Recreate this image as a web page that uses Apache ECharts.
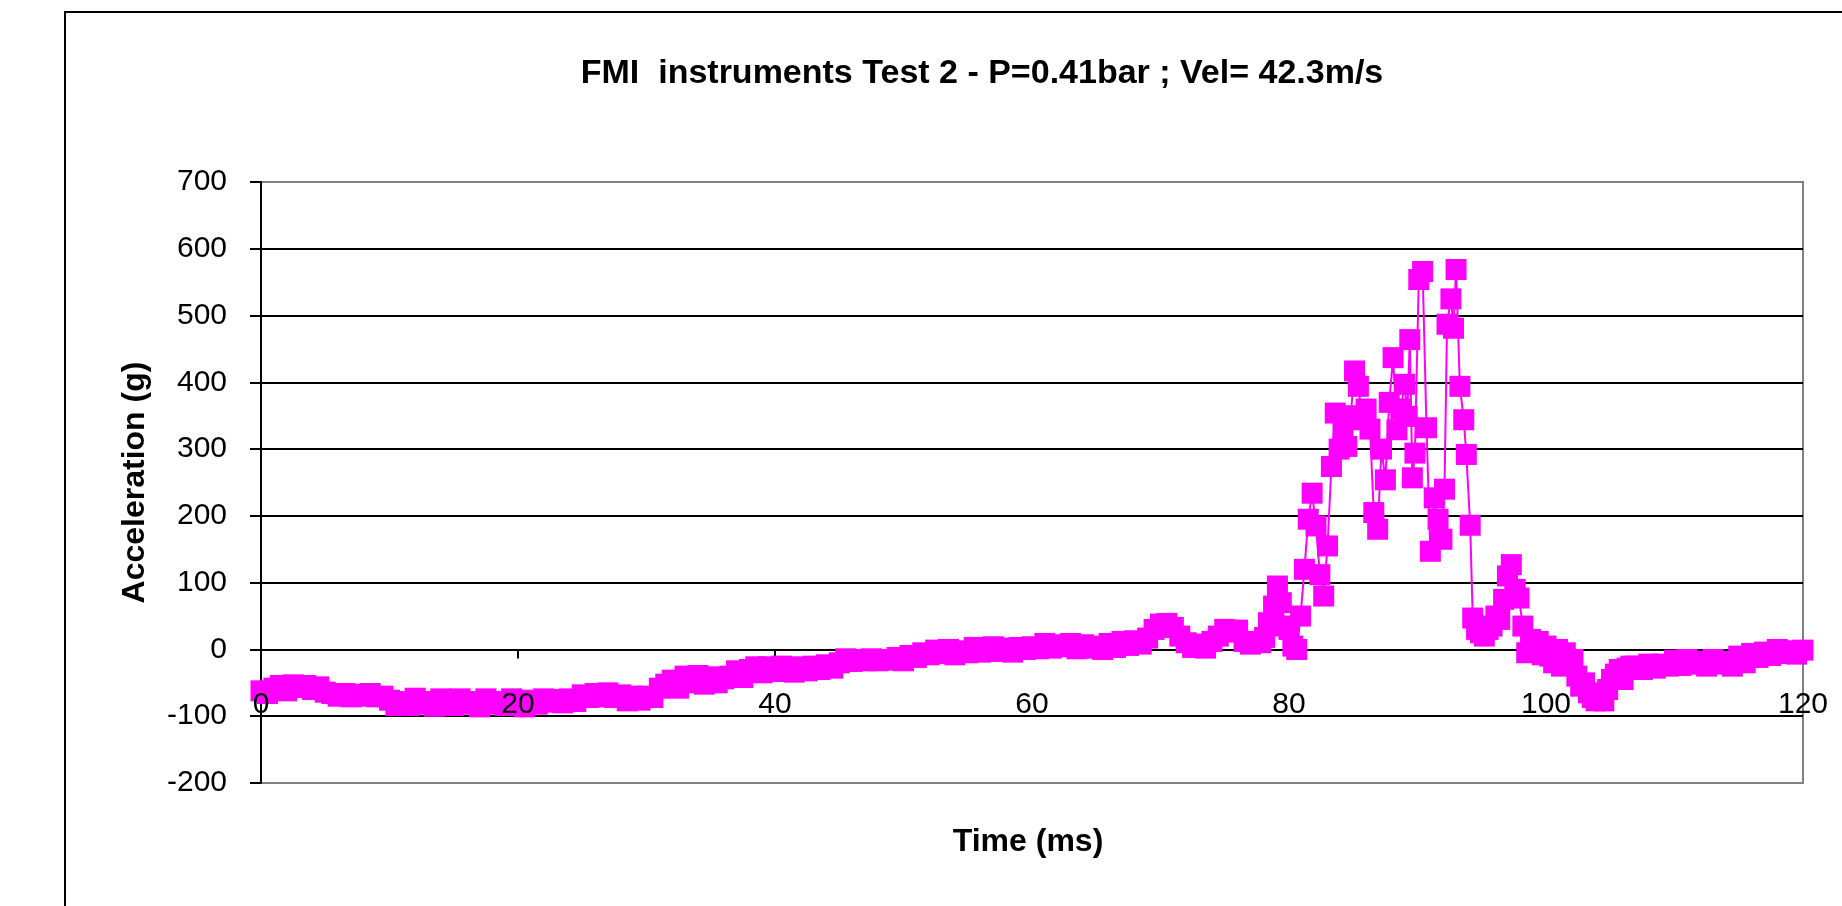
<!DOCTYPE html>
<html>
<head>
<meta charset="utf-8">
<script src="https://cdn.jsdelivr.net/npm/echarts@6/dist/echarts.min.js"></script>
<style>
html,body{margin:0;padding:0;background:#fff;}
#chart{width:1842px;height:906px;}
</style>
</head>
<body>
<div id="chart"></div>
<script>
// ---- Data (time in ms, acceleration in g) ----
const chartTitle = 'FMI  instruments Test 2 - P=0.41bar ; Vel= 42.3m/s';
const xAxisTitle = 'Time (ms)';
const yAxisTitle = 'Acceleration (g)';
const xTicks = [0, 20, 40, 60, 80, 100, 120];
const yTicks = [-200, -100, 0, 100, 200, 300, 400, 500, 600, 700];

const segStart = [
  [0,-62],[0.5,-66],[1,-58],[1.5,-54],[2,-62],[2.5,-53],[3,-57],[3.5,-54],[4,-60],[4.5,-56],
  [5,-64],[5.5,-66],[6,-70],[6.5,-66],[7,-71],[7.5,-67],[8,-70],[8.5,-66],[9,-71],[9.5,-70],
  [10,-76],[10.5,-84],[11,-78],[11.5,-84],[12,-73],[12.5,-82],[13,-78],[13.5,-85],[14,-74],[14.5,-80],
  [15,-84],[15.5,-74],[16,-82],[16.5,-78],[17,-86],[17.5,-74],[18,-82],[18.5,-78],[19,-84],[19.5,-74],
  [20,-82],[20.5,-86],[21,-76],[21.5,-82],[22,-74],[22.5,-79],[23,-75],[23.5,-80],[24,-74],[24.5,-78],
  [25,-68],[25.5,-72],[26,-66],[26.5,-71],[27,-65],[27.5,-72],[28,-68],[28.5,-77],[29,-70],[29.5,-76],
  [30,-70],[30.5,-72],[31,-58],[31.5,-52],[32,-46],[32.5,-58],[33,-40],[33.5,-50],[34,-39],[34.5,-52],
  [35,-41],[35.5,-50],[36,-44],[36.5,-40],[37,-32],[37.5,-42],[38,-30],[38.5,-26]
];

const segPlateau = [
  [39,-35],[39.5,-26],[40,-33],[40.5,-25],[41,-30],[41.5,-34],[42,-26],[42.5,-32],[43,-25],[43.5,-30],
  [44,-23],[44.5,-28],[45,-20],[45.5,-14],[46,-18],[46.5,-15],[47,-17],[47.5,-14],[48,-17],[48.5,-15],
  [49,-16],[49.5,-12],[50,-17],[50.5,-9],[51,-12],[51.5,-5],[52,-8],[52.5,-1],[53,-6],[53.5,0],
  [54,-8],[54.5,-2],[55,-5],[55.5,3],[56,-4],[56.5,1],[57,4],[57.5,-3],[58,2],[58.5,-4],
  [59,3],[59.5,0],[60,4],[60.5,1],[61,9],[61.5,2],[62,7],[62.5,4],[63,9],[63.5,1],
  [64,7],[64.5,2],[65,5],[65.5,0],[66,9],[66.5,3],[67,12],[67.5,6],[68,13],[68.5,8],
  [69,17],[69.5,30],[70,38],[70.5,39],[71,33],[71.5,20],[72,10],[72.5,3],[73,8],[73.5,2],
  [74,12],[74.5,20],[75,30],[75.5,26],[76,29],[76.5,12],[77,8],[77.5,12]
];

const segImpact = [
  [77.8,10],[78.1,18],[78.4,40],[78.8,65],[79.1,95],[79.4,70],[79.7,35],[80.0,30],[80.3,5],[80.6,0],
  [80.9,50],[81.2,120],[81.5,195],[81.8,234],[82.1,185],[82.4,112],[82.7,80],[83.0,155],[83.3,274],[83.6,354],
  [83.9,300],[84.2,330],[84.5,304],[84.8,350],[85.1,417],[85.4,394],[85.7,344],[86.0,360],[86.3,330],[86.6,205],
  [86.9,180],[87.2,300],[87.5,254],[87.8,370],[88.1,437],[88.4,329],[88.7,360],[89.0,397],[89.2,349],[89.4,464],
  [89.6,257],[89.8,294],[90.1,554],[90.4,566],[90.7,332],[91.0,147],[91.3,227],[91.6,195],[91.9,165],[92.1,240],
  [92.3,487],[92.6,525],[92.8,481],[93.0,569],[93.3,394],[93.6,344],[93.8,292],[94.1,186],[94.3,47],[94.6,30],
  [94.9,25],[95.2,20],[95.5,30],[95.8,35],[96.1,50],[96.4,45],[96.7,75],[97.0,110],[97.3,127],[97.6,90],
  [97.9,77],[98.2,35],[98.5,-5],[98.8,15],[99.1,-2],[99.4,12],[99.7,-8],[100.0,5],[100.3,-10],[100.6,-20],
  [100.9,0],[101.2,-25],[101.5,-5],[101.8,-22],[102.1,-15],[102.4,-40],[102.7,-55],[103.0,-50],[103.3,-65],[103.6,-72],
  [103.9,-77],[104.2,-75],[104.5,-77],[104.8,-60],[105.1,-45],[105.4,-37],[105.7,-30],[106.0,-45],[106.3,-28],[106.6,-25]
];

const segSettle = [
  [107,-25],[107.5,-30],[108,-22],[108.5,-28],[109,-22],[109.5,-25],[110,-16],[110.5,-24],[111,-15],[111.5,-22],
  [112,-18],[112.5,-25],[113,-15],[113.5,-22],[114,-18],[114.5,-25],[115,-10],[115.5,-20],[116,-6],[116.5,-12],
  [117,-4],[117.5,-9],[118,0],[118.5,-6],[119,-2],[119.5,-7],[120,-1]
];

const samples = segStart.concat(segPlateau, segImpact, segSettle);

// ---- Chart ----
const FONT = '"Liberation Sans", Arial, Helvetica, sans-serif';
const gridTop = 182, gridHeight = 601;
const yMin = yTicks[0], yMax = yTicks[yTicks.length - 1];
const zeroOffset = -gridHeight * (0 - yMin) / (yMax - yMin);

const splitColors = yTicks.map((v, i) => (i === 0 || i === yTicks.length - 1) ? '#808080' : '#000000');

const chart = echarts.init(document.getElementById('chart'), null, {renderer: 'canvas'});
const option = {
  animation: false,
  backgroundColor: '#ffffff',
  graphic: [
    {
      type: 'rect', z: -10, silent: true,
      shape: {x: 65, y: 12, width: 1900, height: 1000},
      style: {fill: '#ffffff', stroke: '#000000', lineWidth: 2}
    },
    {
      type: 'text', z: 10, silent: true,
      x: 982, y: 74,
      style: {
        text: chartTitle, fill: '#000000',
        font: 'bold 34px ' + FONT,
        align: 'center', verticalAlign: 'middle',
        textAlign: 'center', textVerticalAlign: 'middle'
      }
    },
    {
      type: 'text', z: 10, silent: true,
      x: 1028, y: 842,
      style: {
        text: xAxisTitle, fill: '#000000',
        font: 'bold 32px ' + FONT,
        align: 'center', verticalAlign: 'middle',
        textAlign: 'center', textVerticalAlign: 'middle'
      }
    }
  ],
  grid: {
    left: 261, top: gridTop, width: 1542, height: gridHeight,
    show: true, borderColor: '#808080', borderWidth: 2,
    backgroundColor: 'transparent',
    containLabel: false, outerBoundsMode: 'none'
  },
  xAxis: [
    {
      type: 'value', min: xTicks[0], max: xTicks[xTicks.length - 1], interval: 20,
      axisLine: {show: true, onZero: true, lineStyle: {color: '#000', width: 2}},
      axisTick: {show: true, inside: false, length: 9, lineStyle: {color: '#000', width: 2}},
      axisLabel: {show: false},
      splitLine: {show: false}
    },
    {
      type: 'value', min: xTicks[0], max: xTicks[xTicks.length - 1], interval: 20,
      position: 'bottom', offset: zeroOffset, z: 10,
      axisLine: {show: false, onZero: false},
      axisTick: {show: false},
      splitLine: {show: false},
      axisLabel: {show: true, margin: 40, fontSize: 30, color: '#000', fontFamily: FONT}
    }
  ],
  yAxis: {
    type: 'value', min: yMin, max: yMax, interval: 100,
    axisLine: {show: true, onZero: false, lineStyle: {color: '#000', width: 2}},
    axisTick: {show: true, inside: false, length: 11, lineStyle: {color: '#000', width: 2}},
    axisLabel: {margin: 34, fontSize: 30, color: '#000', fontFamily: FONT},
    splitLine: {show: true, lineStyle: {color: splitColors, width: 2}},
    name: yAxisTitle, nameLocation: 'middle', nameGap: 110, nameRotate: 90,
    nameTextStyle: {fontFamily: FONT, fontSize: 32, fontWeight: 'bold', color: '#000'}
  },
  series: [{
    type: 'line',
    xAxisIndex: 0, yAxisIndex: 0,
    data: samples,
    symbol: 'rect', symbolSize: 21, showSymbol: true, showAllSymbol: true,
    clip: false, z: 2,
    itemStyle: {color: '#FF00FF', borderWidth: 0},
    lineStyle: {color: '#FF00FF', width: 2},
    emphasis: {disabled: true}
  }]
};
chart.setOption(option);
</script>
</body>
</html>
